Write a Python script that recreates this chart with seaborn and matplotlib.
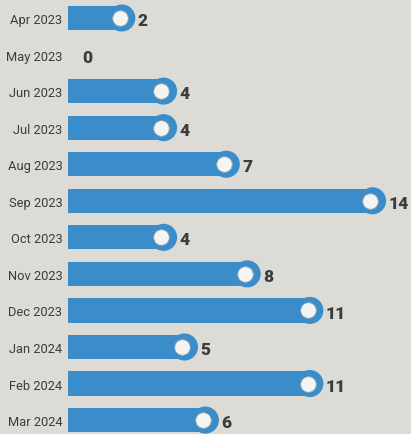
import matplotlib
matplotlib.use("Agg")
import matplotlib.pyplot as plt
import matplotlib.transforms as mtransforms
import seaborn as sns
import pandas as pd

months = ["Apr 2023", "May 2023", "Jun 2023", "Jul 2023", "Aug 2023", "Sep 2023",
          "Oct 2023", "Nov 2023", "Dec 2023", "Jan 2024", "Feb 2024", "Mar 2024"]
counts = [2, 0, 4, 4, 7, 14, 4, 8, 11, 5, 11, 6]

df = pd.DataFrame({"month": months, "count": counts})

BG = "#dcdbd6"
BLUE = "#3a8dc9"
TXT = "#3c3c3c"

sns.set_theme(style="white")
plt.rcParams["font.family"] = ["Roboto", "DejaVu Sans"]

fig = plt.figure(figsize=(4.11, 4.35), dpi=100, facecolor=BG)
ax = fig.add_axes([68 / 411, 0, 1 - 68 / 411, 1])
ax.set_facecolor(BG)

xmin = -0.574
sns.barplot(data=df, x="count", y="month", orient="h", color=BLUE,
            width=0.66, ax=ax, saturation=1)
# bars start at the left edge of the plot area and end under the end-cap
for p, v in zip(ax.patches, counts):
    if v == 0:
        p.set_visible(False)
        continue
    p.set_x(xmin)
    p.set_width(v - xmin)
    p.set_edgecolor("none")

nz = df[df["count"] > 0]
sns.scatterplot(data=nz, x="count", y="month", s=380, color=BLUE,
                edgecolor="none", ax=ax, zorder=3, legend=False)
n_before = len(ax.collections)
sns.scatterplot(data=nz, x="count", y="month", s=125, color="#f4f4f2",
                edgecolor="#9aa9b5", linewidth=0.6, ax=ax, zorder=4, legend=False)
inner = ax.collections[n_before]
inner.set_offset_transform(mtransforms.offset_copy(ax.transData, fig=fig, x=-1.5, y=0, units="points"))

for i, v in enumerate(counts):
    off = 11.5 if v > 0 else 1.5
    ax.annotate(str(v), xy=(v, i), xytext=(off, -1.5), textcoords="offset points",
                ha="left", va="center", fontsize=12.5, fontweight="black", color=TXT)

ax.set_xlim(xmin, 15.84)
ax.set_ylim(11.38, -0.52)
ax.set_xlabel("")
ax.set_ylabel("")
ax.set_xticks([])
ax.tick_params(axis="y", length=0, pad=4, labelsize=9.3, labelcolor=TXT)
for s in ax.spines.values():
    s.set_visible(False)

fig.savefig("out.png", dpi=100, facecolor=BG)
